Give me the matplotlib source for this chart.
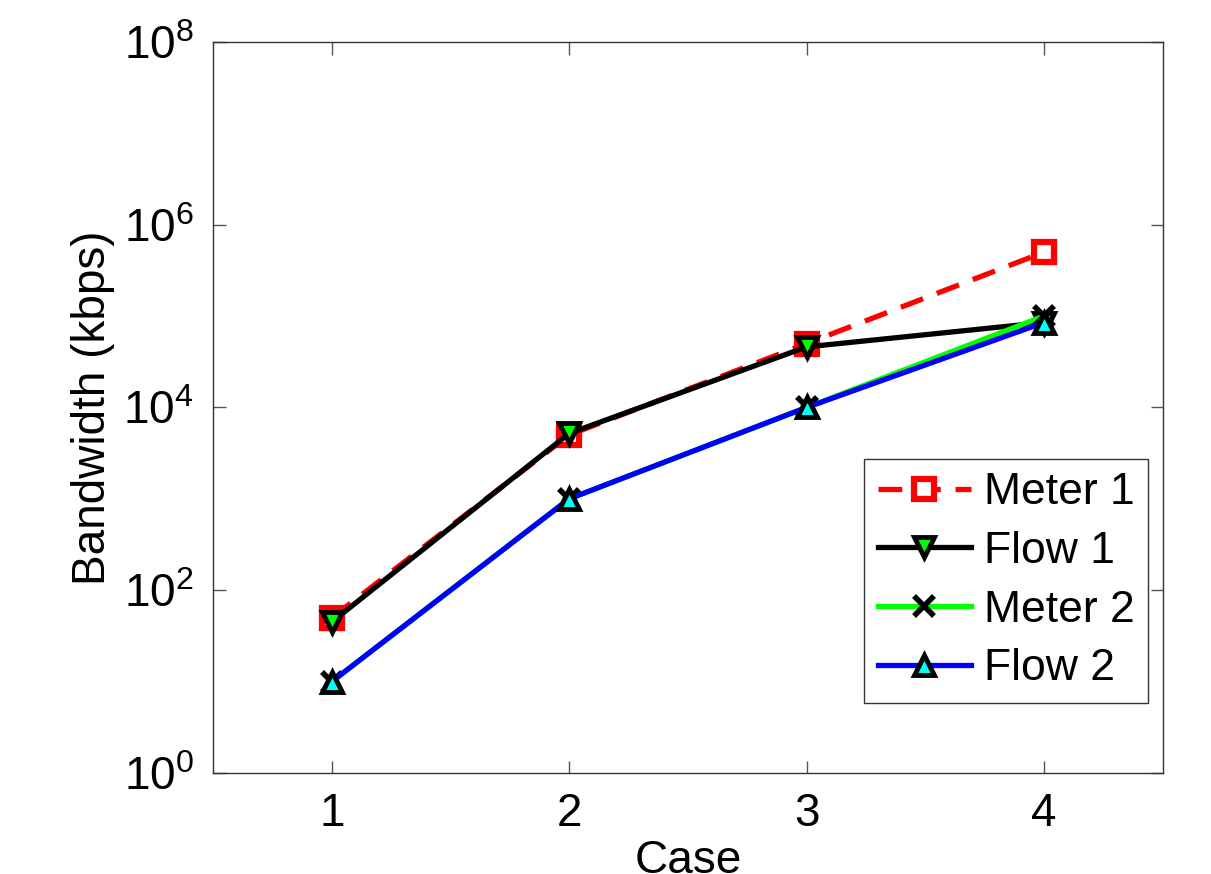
import matplotlib
matplotlib.use("Agg")
import matplotlib.pyplot as plt

plt.rcParams['font.family'] = ['Liberation Sans', 'DejaVu Sans']
plt.rcParams['mathtext.fontset'] = 'custom'
plt.rcParams['mathtext.rm'] = 'Liberation Sans'

cases = [1, 2, 3, 4]
meter1 = [50, 5000, 50000, 500000]
flow1 = [45, 5200, 46000, 85000]
meter2 = [10, 1000, 10000, 100000]
flow2 = [10, 1000, 10000, 85000]

fig = plt.figure(figsize=(12.11, 8.74), dpi=100)
ax = fig.add_axes([0.176, 0.1156, 0.784, 0.8364])

ax.plot(cases, meter1, '--s', color='red', lw=3.8, ms=14, mec='red', mfc='white',
        mew=4.5, dashes=(4.5, 2.8), label='Meter 1')
ax.plot(cases, flow1, '-v', color='black', lw=3.8, ms=15, mec='black', mfc='#00ff00',
        mew=3.5, label='Flow 1')
ax.plot(cases, meter2, '-x', color='#00ff00', lw=3.8, ms=14, mec='black',
        mew=4, label='Meter 2')
ax.plot(cases, flow2, '-^', color='blue', lw=3.8, ms=15, mec='black', mfc='cyan',
        mew=3.5, label='Flow 2')

ax.set_yscale('log')
ax.set_ylim(1, 1e8)
ax.set_xlim(0.5, 4.5)
ax.set_xticks(cases)
ax.set_yticks([1, 1e2, 1e4, 1e6, 1e8])
ax.minorticks_off()
ax.tick_params(direction='in', top=True, right=True, length=9, width=1,
               labelsize=33, pad=14, color='#555555')
for s in ax.spines.values():
    s.set_linewidth(1)
    s.set_color('#333333')

ax.set_xlabel('Case', fontsize=33, labelpad=2)
ax.set_ylabel('Bandwidth (kbps)', fontsize=33, labelpad=6)

leg = ax.legend(loc='lower right', bbox_to_anchor=(0.985, 0.096), fontsize=32,
                fancybox=False, framealpha=1, edgecolor='#333333', handlelength=2.1,
                borderpad=0.3, labelspacing=0.4, handletextpad=0.3, borderaxespad=0)
leg.get_frame().set_linewidth(1)

fig.savefig('out.png', dpi=100)
